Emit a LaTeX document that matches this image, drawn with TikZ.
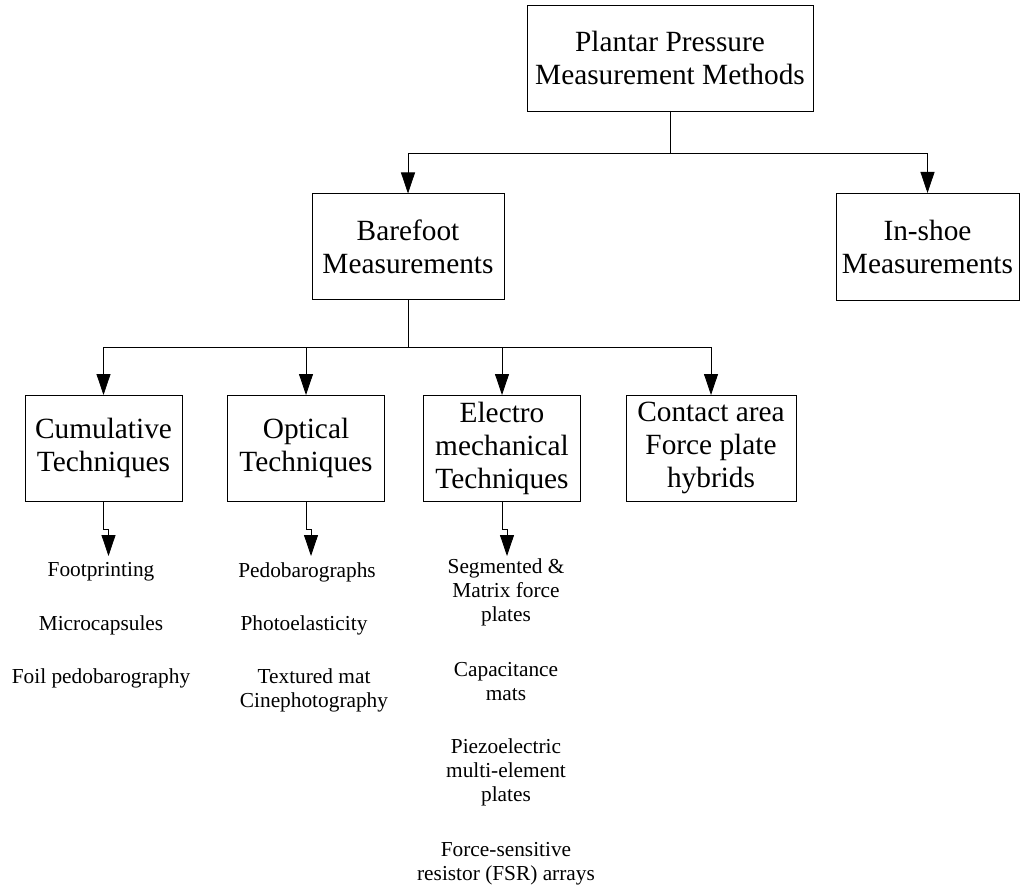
\documentclass[tikz,border=0pt]{standalone}
\usepackage{fontspec}
\setmainfont{Liberation Serif}
\usetikzlibrary{arrows.meta}

\begin{document}
\begin{tikzpicture}[
  x=0.75pt, y=-0.75pt,
  box/.style  ={draw, line width=0.6pt, align=center, inner sep=0pt, outer sep=0pt,
                font=\fontsize{22}{24.75}\selectfont},
  head/.style ={box, minimum width=214.5pt, minimum height=79.5pt},
  group/.style={box, minimum width=144pt, minimum height=79.5pt},
  tech/.style ={box, minimum width=117.75pt, minimum height=79.5pt},
  item/.style ={align=center, inner sep=0pt, anchor=north,
                font=\fontsize{16}{17.8}\selectfont},
  arr/.style  ={-{Triangle[length=15.75pt,width=10.5pt]}, line width=0.6pt},
  link/.style ={line width=0.6pt},
]
\useasboundingbox (0,0) rectangle (1021,888);

\def\ya{58}
\def\yb{246.5}
\def\yc{448}

\node[head]  (ppm)  at (670,\ya)   {Plantar Pressure\\Measurement Methods};
\node[group] (bare) at (408,\yb)   {Barefoot\\Measurements};
\node[group, minimum width=137.25pt, minimum height=80.25pt] (shoe) at (927.5,\yb) {In-shoe\\Measurements};

\node[tech] (cum) at (103.5,\yc) {Cumulative\\Techniques};
\node[tech] (opt) at (306,\yc)   {Optical\\Techniques};
\node[tech] (ele) at (502,\yc)   {Electro\\mechanical\\Techniques};
\node[tech, minimum width=127.5pt] (hyb) at (711,\yc) {Contact area\\Force plate\\hybrids};

\coordinate (s1) at (670,153);
\coordinate (s2) at (408,347);
\draw[link] (ppm.south) -- (s1);
\draw[arr] (s1) -| (bare.north);
\draw[arr] (s1) -| (shoe.north);
\draw[link] (bare.south) -- (s2);
\foreach \t in {cum,opt,ele,hyb} \draw[arr] (s2) -| (\t.north);

\coordinate (cum tip) at (108.5,556);
\coordinate (opt tip) at (311,556);
\coordinate (ele tip) at (507,556);
\foreach \t in {cum,opt,ele} \draw[arr] (\t.south) -- ++(0,28) -| (\t\space tip);

\node[item] (fp)  at (101,562.5) {Footprinting};
\node[item] (mc)  at (101,615.5) {Microcapsules};
\node[item] (fpb) at (101,668.5) {Foil pedobarography};

\node[item] (pbg) at (307,562.5) {Pedobarographs};
\node[item] (pel) at (304,615.5) {Photoelasticity};
\node[item] (tmc) at (314,668.5) {Textured mat\\Cinephotography};

\node[item] (smf) at (506,558.5) {Segmented \&\\Matrix force\\plates};
\node[item] (cap) at (506,662.5) {Capacitance\\mats};
\node[item] (pze) at (506,738.5) {Piezoelectric\\multi-element\\plates};
\node[item] (fsr) at (506,842.5) {Force-sensitive\\resistor (FSR) arrays};

\end{tikzpicture}
\end{document}
